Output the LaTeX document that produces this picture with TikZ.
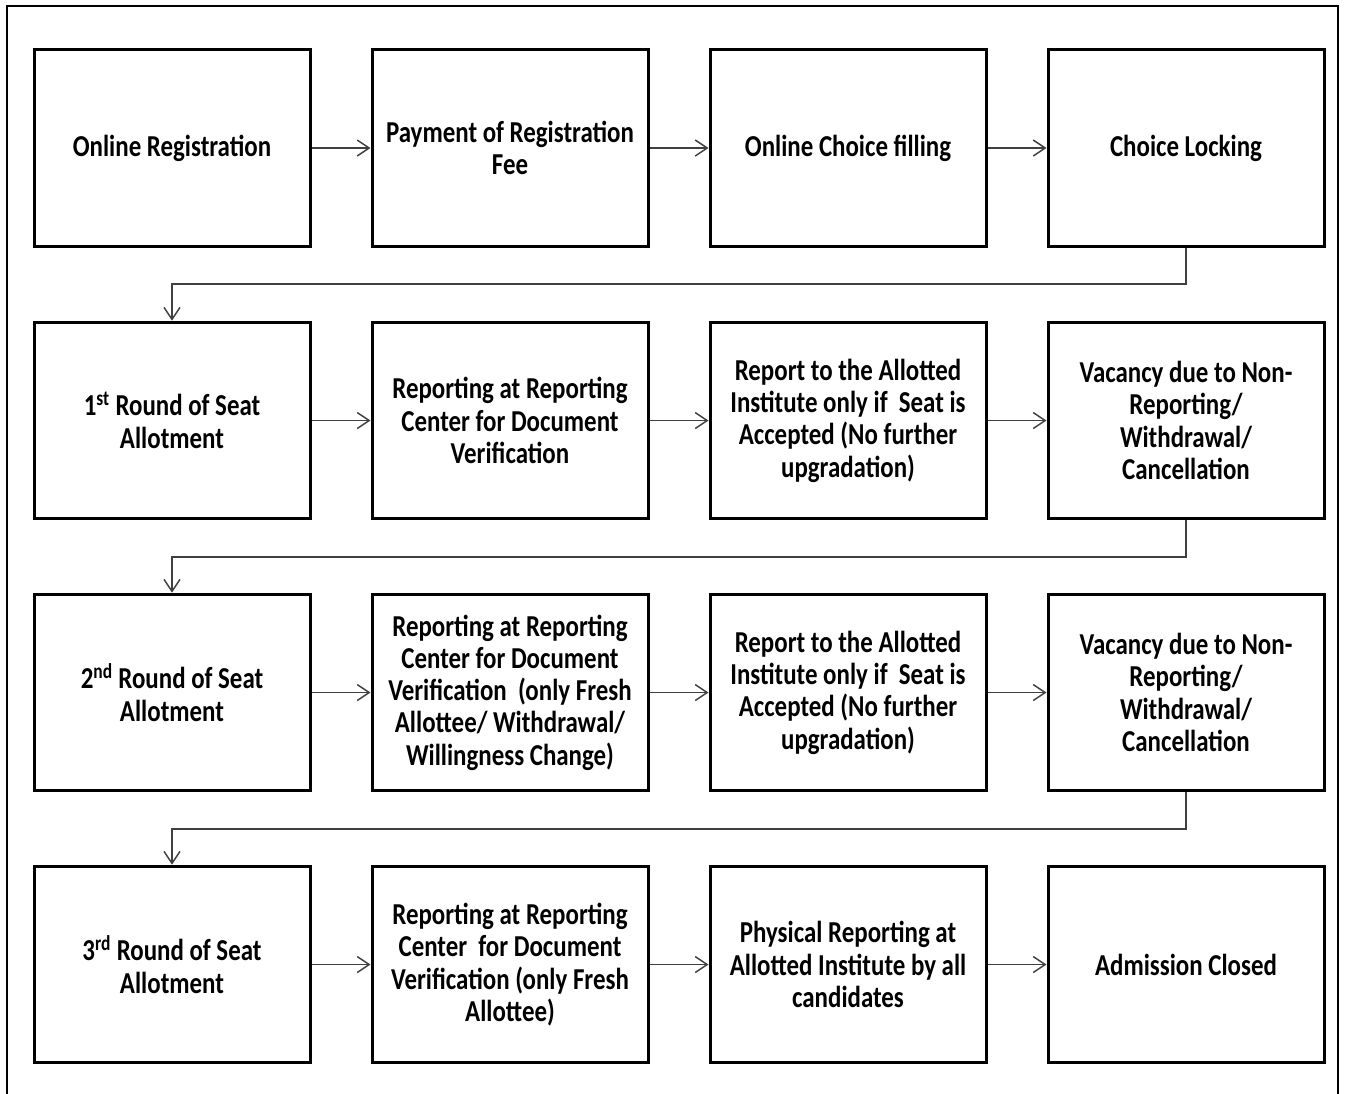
\documentclass[tikz,border=0pt]{standalone}
\usepackage{fontspec}
\setmainfont{Carlito}[FakeStretch=0.82]
\usetikzlibrary{arrows.meta}
\begin{document}
\begin{tikzpicture}[x=0.75pt,y=-0.75pt,
  box/.style={draw,line width=2.25pt,minimum width=207pt,minimum height=147.5pt,inner sep=0pt,align=center,
    font=\bfseries\fontsize{22.8}{24.2}\selectfont},
  arr/.style={draw=black!75,line width=1.1pt,-{Straight Barb[length=9pt,width=12pt,line width=1.1pt]}},
  frame/.style={line width=1.5pt}]
\useasboundingbox (0,0) rectangle (1345,1093);
\draw[frame] (7,1095) -- (7,6) -- (1338,6) -- (1338,1095);
% row 1
\node[box] (a1) at (172,148) {Online Registration};
\node[box] (a2) at (510,148) {Payment of Registration\\Fee};
\node[box] (a3) at (848,148) {Online Choice filling};
\node[box] (a4) at (1186,148) {Choice Locking};
% row 2
\node[box] (b1) at (172,420.5) {1\textsuperscript{st} Round of Seat\\Allotment};
\node[box] (b2) at (510,420.5) {Reporting at Reporting\\Center for Document\\Verification};
\node[box] (b3) at (848,420.5) {Report to the Allotted\\Institute only if~ Seat is\\Accepted (No further\\upgradation)};
\node[box] (b4) at (1186,420.5) {Vacancy due to Non-\\Reporting/\\Withdrawal/\\Cancellation};
% row 3
\node[box] (c1) at (172,692.5) {2\textsuperscript{nd} Round of Seat\\Allotment};
\node[box] (c2) at (510,692.5) {Reporting at Reporting\\Center for Document\\Verification~ (only Fresh\\Allottee/ Withdrawal/\\Willingness Change)};
\node[box] (c3) at (848,692.5) {Report to the Allotted\\Institute only if~ Seat is\\Accepted (No further\\upgradation)};
\node[box] (c4) at (1186,692.5) {Vacancy due to Non-\\Reporting/\\Withdrawal/\\Cancellation};
% row 4
\node[box] (d1) at (172,964.5) {3\textsuperscript{rd} Round of Seat\\Allotment};
\node[box] (d2) at (510,964.5) {Reporting at Reporting\\Center~ for Document\\Verification (only Fresh\\Allottee)};
\node[box] (d3) at (848,964.5) {Physical Reporting at\\Allotted Institute by all\\candidates};
\node[box] (d4) at (1186,964.5) {Admission Closed};
% horizontal arrows
\foreach \r in {a,b,c,d}{
  \draw[arr] (\r1.east) -- (\r2.west);
  \draw[arr] (\r2.east) -- (\r3.west);
  \draw[arr] (\r3.east) -- (\r4.west);
}
% row links
\coordinate (m1) at (1186,284);
\coordinate (m2) at (1186,557);
\coordinate (m3) at (1186,829);
\draw[arr] (a4.south) -- (m1) -| (b1.north);
\draw[arr] (b4.south) -- (m2) -| (c1.north);
\draw[arr] (c4.south) -- (m3) -| (d1.north);
\end{tikzpicture}
\end{document}
